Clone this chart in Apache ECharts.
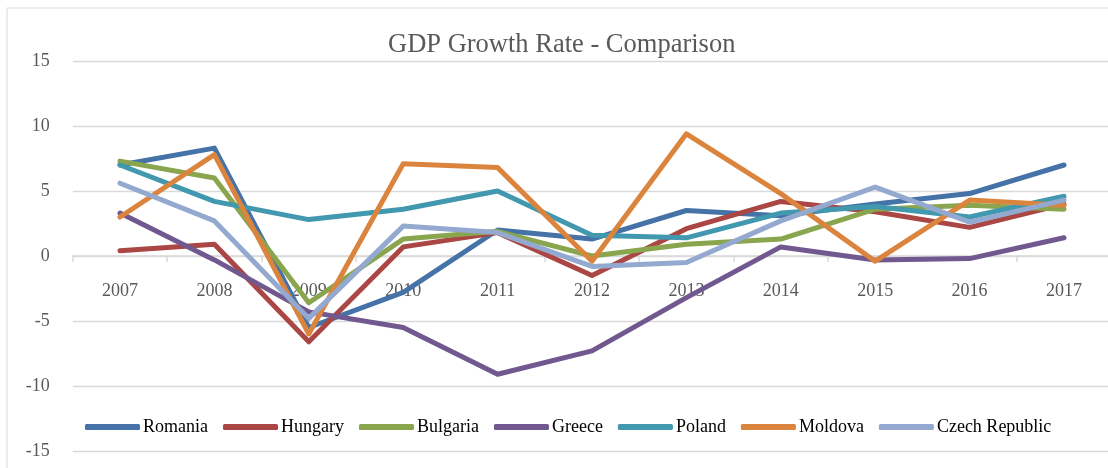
<!DOCTYPE html>
<html>
<head>
<meta charset="utf-8">
<title>GDP Growth Rate - Comparison</title>
<script src="https://cdn.jsdelivr.net/npm/echarts@6/dist/echarts.min.js"></script>
<style>
  html, body { margin: 0; padding: 0; background: #ffffff; }
  #chart { width: 1108px; height: 468px; }
</style>
</head>
<body>
<div id="chart"></div>
<script>
// Annual GDP growth, percent
const years = ['2007', '2008', '2009', '2010', '2011', '2012', '2013', '2014', '2015', '2016', '2017'];
const romania  = [7.0, 8.3, -5.5, -2.8, 2.0, 1.3, 3.5, 3.1, 4.0, 4.8, 7.0];
const hungary  = [0.4, 0.9, -6.6, 0.7, 1.8, -1.5, 2.1, 4.2, 3.4, 2.2, 4.0];
const bulgaria = [7.3, 6.0, -3.6, 1.3, 1.9, 0.0, 0.9, 1.3, 3.6, 3.9, 3.6];
const greece   = [3.3, -0.3, -4.3, -5.5, -9.1, -7.3, -3.2, 0.7, -0.3, -0.2, 1.4];
const poland   = [7.0, 4.2, 2.8, 3.6, 5.0, 1.6, 1.4, 3.3, 3.8, 3.0, 4.6];
const moldova  = [3.0, 7.8, -6.0, 7.1, 6.8, -0.4, 9.4, 4.8, -0.4, 4.3, 3.9];
const czech    = [5.6, 2.7, -4.8, 2.3, 1.8, -0.8, -0.5, 2.7, 5.3, 2.6, 4.3];
const yTicks = { min: -15, max: 15, step: 5 };

const seriesDefs = [
  { name: 'Romania', data: romania, color: '#4572A7' },
  { name: 'Hungary', data: hungary, color: '#AA4643' },
  { name: 'Bulgaria', data: bulgaria, color: '#89A54E' },
  { name: 'Greece', data: greece, color: '#71588F' },
  { name: 'Poland', data: poland, color: '#4198AF' },
  { name: 'Moldova', data: moldova, color: '#DB843D' },
  { name: 'Czech Republic', data: czech, color: '#93A9CF' }
];

const serif = '"Liberation Serif", "Times New Roman", serif';
const gridTop = 61, gridHeight = 390;
// the category axis sits on the zero line of the value axis
const zeroOffset = -gridHeight * (0 - yTicks.min) / (yTicks.max - yTicks.min);

const chart = echarts.init(document.getElementById('chart'), null, { renderer: 'canvas' });

chart.setOption({
  animation: false,
  backgroundColor: '#ffffff',
  graphic: [{
    type: 'rect',
    shape: { x: 7, y: 8, width: 1120, height: 480 },
    style: { fill: 'none', stroke: '#d9d9d9', lineWidth: 1 },
    silent: true,
    z: -10
  }],
  title: {
    text: 'GDP Growth Rate - Comparison',
    left: 383,
    top: 27,
    textStyle: { fontFamily: serif, fontSize: 26.5, fontWeight: 'normal', color: '#595959' }
  },
  legend: {
    left: 80,
    top: 413,
    itemWidth: 55,
    itemHeight: 6,
    itemGap: 15,
    icon: 'roundRect',
    textStyle: { fontFamily: serif, fontSize: 18, color: '#000000', padding: [0, 0, 0, -2] },
    data: seriesDefs.map(s => s.name)
  },
  grid: {
    left: 72.8, top: gridTop, width: 1038.4, height: gridHeight,
    containLabel: false, outerBoundsMode: 'none'
  },
  xAxis: {
    type: 'category',
    data: years,
    boundaryGap: true,
    position: 'bottom',
    offset: zeroOffset,
    axisLine: { onZero: false, lineStyle: { color: '#d9d9d9', width: 1.5 } },
    axisTick: { show: true, length: 6, lineStyle: { color: '#d9d9d9', width: 1.5 } },
    axisLabel: { margin: 26, fontFamily: serif, fontSize: 18, color: '#595959' },
    splitLine: { show: false }
  },
  yAxis: {
    type: 'value',
    min: yTicks.min,
    max: yTicks.max,
    interval: yTicks.step,
    axisLine: { show: false },
    axisTick: { show: false },
    axisLabel: { margin: 23, fontFamily: serif, fontSize: 18, color: '#595959' },
    splitLine: { lineStyle: { color: '#d9d9d9', width: 1.3 } }
  },
  series: seriesDefs.map(s => ({
    name: s.name,
    type: 'line',
    data: s.data,
    symbol: 'none',
    color: s.color,
    lineStyle: { width: 5, color: s.color, cap: 'round', join: 'round' }
  }))
});
</script>
</body>
</html>
